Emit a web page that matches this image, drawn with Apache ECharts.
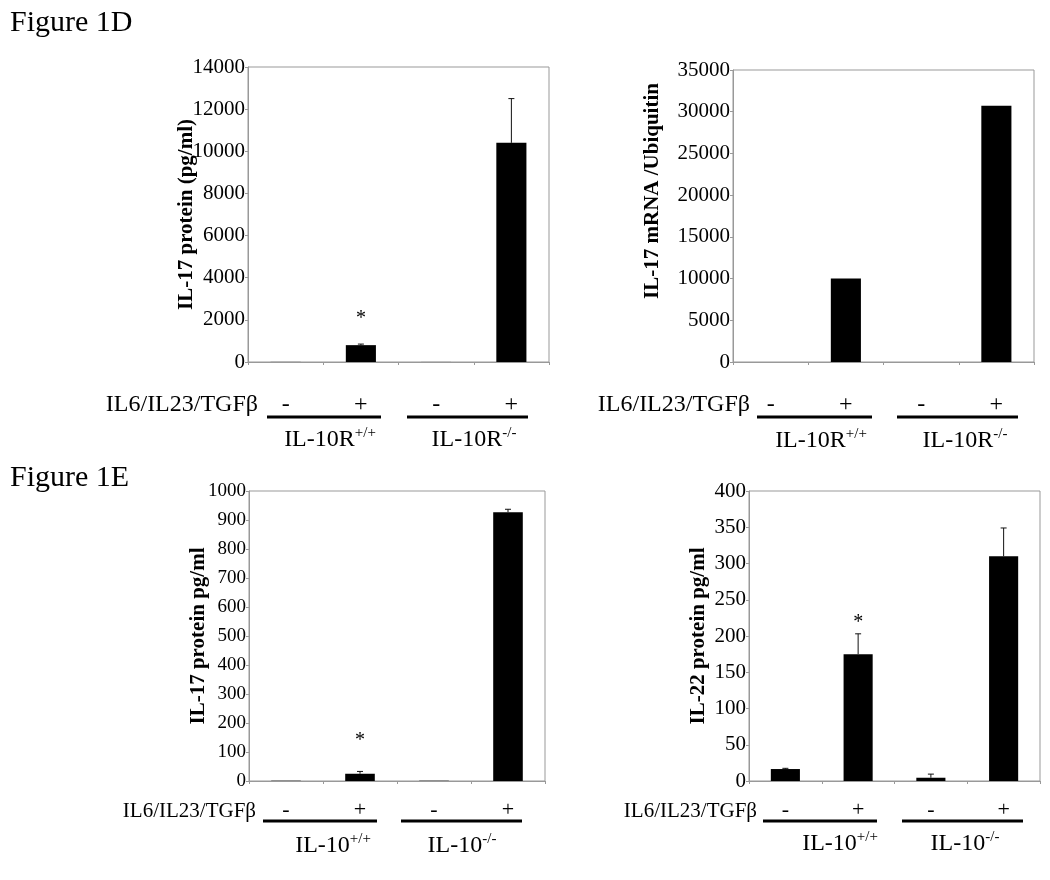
<!DOCTYPE html>
<html><head><meta charset="utf-8">
<script src="https://cdn.jsdelivr.net/npm/echarts@6/dist/echarts.min.js"></script>
<style>html,body{margin:0;padding:0;background:#fff}#c{width:1050px;height:880px}</style>
</head><body><div id="c"></div>
<script>
// ---------- data ----------
const categories = ['-', '+', '-', '+'];
const treatmentLabel = 'IL6/IL23/TGFβ';
const figureTitles = ['Figure 1D', 'Figure 1E'];

const d1Name = 'IL-17 protein (pg/ml)';
const d1Values = [5, 800, 3, 10400];
const d1Errors = [0, 50, 0, 2100];
const d1Sig = [false, true, false, false];
const d1Max = 14000, d1Step = 2000;
const d1Groups = ['IL-10R', 'IL-10R'];

const d2Name = 'IL-17 mRNA /Ubiquitin';
const d2Values = [0, 10000, 0, 30700];
const d2Errors = [0, 0, 0, 0];
const d2Sig = [false, false, false, false];
const d2Max = 35000, d2Step = 5000;

const e1Name = 'IL-17 protein pg/ml';
const e1Values = [1, 25, 1, 927];
const e1Errors = [0, 8, 0, 10];
const e1Sig = [false, true, false, false];
const e1Max = 1000, e1Step = 100;
const e1Groups = ['IL-10', 'IL-10'];

const e2Name = 'IL-22 protein pg/ml';
const e2Values = [16.5, 175, 4.5, 310];
const e2Errors = [1, 28, 5, 39];
const e2Sig = [false, true, false, false];
const e2Max = 400, e2Step = 50;

const genotypeSup = ['+/+', '-/-'];

// ---------- layout / style ----------
const FONT = '"Liberation Serif", "Times New Roman", serif';
const panels = [
  {grid:{left:248, top:67, width:301, height:295}, name:d1Name, values:d1Values, errors:d1Errors, sig:d1Sig, max:d1Max, step:d1Step,
   nameGap:51, namePad:[0,0,0,0], tickFont:21, signFont:24, signMargin:31, sigOffset:25},
  {grid:{left:733, top:70, width:301, height:292}, name:d2Name, values:d2Values, errors:d2Errors, sig:d2Sig, max:d2Max, step:d2Step,
   nameGap:70, namePad:[0,0,0,50], tickFont:21, signFont:24, signMargin:31, sigOffset:25},
  {grid:{left:249, top:491, width:296, height:290}, name:e1Name, values:e1Values, errors:e1Errors, sig:e1Sig, max:e1Max, step:e1Step,
   nameGap:40, namePad:[0,0,0,0], tickFont:19, signFont:22, signMargin:18, sigOffset:31},
  {grid:{left:749, top:491, width:291, height:290}, name:e2Name, values:e2Values, errors:e2Errors, sig:e2Sig, max:e2Max, step:e2Step,
   nameGap:40, namePad:[0,0,0,0], tickFont:21, signFont:22, signMargin:18, sigOffset:11}
];

function errRender(p) {
  return function (params, api) {
    const i = api.value(0), v = api.value(1), e = api.value(2);
    const base = api.coord([i, v]);
    const top = api.coord([i, v + e]);
    const ch = [];
    if (e > 0) {
      ch.push({type:'line', shape:{x1:base[0], y1:base[1], x2:top[0], y2:top[1]}, style:{stroke:'#111', lineWidth:1}});
      ch.push({type:'line', shape:{x1:top[0]-3, y1:top[1], x2:top[0]+3, y2:top[1]}, style:{stroke:'#111', lineWidth:1}});
    }
    if (p.sig[params.dataIndex]) {
      ch.push({type:'text', style:{text:'*', x:top[0], y:top[1]-p.sigOffset, align:'center', verticalAlign:'middle',
        font:'20px ' + FONT, fill:'#000'}});
    }
    return {type:'group', children:ch};
  };
}

const grid = [], xAxis = [], yAxis = [], series = [];
panels.forEach((p, k) => {
  grid.push(Object.assign({show:true, borderColor:'#999', borderWidth:1, backgroundColor:'#fff', containLabel:false, outerBoundsMode:'none'}, p.grid));
  xAxis.push({type:'category', gridIndex:k, data:categories,
    axisLine:{lineStyle:{color:'#999', width:1}},
    axisTick:{show:true, length:3, lineStyle:{color:'#999'}},
    axisLabel:{color:'#000', fontFamily:FONT, fontSize:p.signFont, margin:p.signMargin},
    splitLine:{show:false}});
  yAxis.push({type:'value', gridIndex:k, min:0, max:p.max, interval:p.step,
    name:p.name, nameLocation:'middle', nameGap:p.nameGap, nameMoveOverlap:false,
    nameTextStyle:{color:'#000', fontFamily:FONT, fontSize:21, fontWeight:'bold', padding:p.namePad},
    axisLine:{show:true, lineStyle:{color:'#999', width:1}},
    axisTick:{show:true, length:3, lineStyle:{color:'#999'}},
    axisLabel:{color:'#000', fontFamily:FONT, fontSize:p.tickFont, margin:3, padding:[11,0,0,0],
      formatter:function (v) { return String(v); }},
    splitLine:{show:false}});
  series.push({type:'bar', xAxisIndex:k, yAxisIndex:k, data:p.values, barWidth:'40%',
    itemStyle:{color:'#000', borderWidth:0}, animation:false});
  series.push({type:'custom', xAxisIndex:k, yAxisIndex:k, renderItem:errRender(p),
    data:p.values.map((v, i) => [i, v, p.errors[i]]), z:5, animation:false});
});

// annotation row under each panel
function txt(x, y, text, size, align, rich) {
  const o = {type:'text', x:x, y:y, style:{text:text, font:size + 'px ' + FONT, fill:'#000', align:align || 'center', verticalAlign:'middle'}};
  if (rich) o.style.rich = rich;
  return o;
}
function hline(x1, x2, y) {
  return {type:'line', shape:{x1:x1, y1:y, x2:x2, y2:y}, style:{stroke:'#000', lineWidth:3}};
}
function groupRich(size) {
  return {m:{fontSize:size, fontFamily:FONT, lineHeight:size + 2, verticalAlign:'bottom'},
          s:{fontSize:Math.round(size * 0.62), fontFamily:FONT, verticalAlign:'top'}};
}
function glabel(x, y, base, sup, size) {
  return txt(x, y, '{m|' + base + '}{s|' + sup + '}', size, 'center', groupRich(size));
}

const graphic = [
  txt(10, 23, figureTitles[0], 30, 'left'),
  txt(10, 478, figureTitles[1], 30, 'left'),
  // panel D1
  txt(258, 405, treatmentLabel, 24, 'right'),
  hline(267, 381, 417), hline(407, 528, 417),
  glabel(330, 439, d1Groups[0], genotypeSup[0], 24),
  glabel(474, 439, d1Groups[1], genotypeSup[1], 24),
  // panel D2
  txt(750, 405, treatmentLabel, 24, 'right'),
  hline(757, 872, 417), hline(897, 1018, 417),
  glabel(821, 440, d1Groups[0], genotypeSup[0], 24),
  glabel(965, 440, d1Groups[1], genotypeSup[1], 24),
  // panel E1
  txt(256, 811, treatmentLabel, 21, 'right'),
  hline(263, 377, 821), hline(401, 522, 821),
  glabel(333, 845, e1Groups[0], genotypeSup[0], 24),
  glabel(462, 845, e1Groups[1], genotypeSup[1], 24),
  // panel E2
  txt(757, 811, treatmentLabel, 21, 'right'),
  hline(763, 877, 821), hline(902, 1023, 821),
  glabel(840, 843, e1Groups[0], genotypeSup[0], 24),
  glabel(965, 843, e1Groups[1], genotypeSup[1], 24)
];

const chart = echarts.init(document.getElementById('c'), null, {renderer:'canvas'});
chart.setOption({backgroundColor:'#fff', animation:false, grid, xAxis, yAxis, series, graphic});
</script>
</body></html>
